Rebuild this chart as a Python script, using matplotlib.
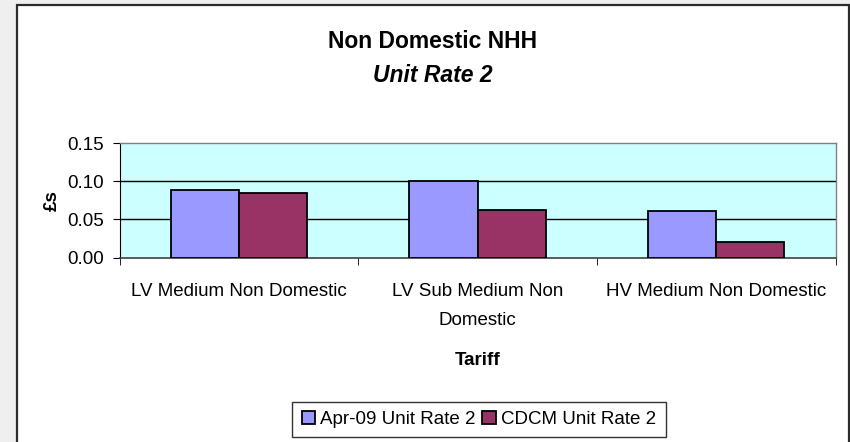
import numpy as np
import matplotlib
matplotlib.use("Agg")
import matplotlib.pyplot as plt
from matplotlib.patches import Rectangle

plt.rcParams['font.family'] = ['Liberation Sans', 'DejaVu Sans']

# data
tariffs = ["LV Medium Non Domestic", "LV Sub Medium Non\nDomestic", "HV Medium Non Domestic"]
apr09 = [0.089, 0.101, 0.061]
cdcm = [0.085, 0.063, 0.021]
series_names = ["Apr-09 Unit Rate 2", "CDCM Unit Rate 2"]
yticks = [0.00, 0.05, 0.10, 0.15]

W, H = 850, 442
fig = plt.figure(figsize=(W / 100, H / 100), dpi=100, facecolor="#EFEFEF")

# white chart panel with dark border
panel = Rectangle((16.5 / W, -0.1), (848.5 - 16.5) / W, 1.1 - 5 / H,
                  transform=fig.transFigure, facecolor="white",
                  edgecolor="#2b2b2b", linewidth=1.6, zorder=-1)
fig.patches.append(panel)

ax = fig.add_axes([119.5 / W, 1 - 257.5 / H, (835.5 - 119.5) / W, (257.5 - 143.3) / H])
ax.set_zorder(1)
ax.set_facecolor("#CCFFFF")

x = np.arange(len(tariffs)) + 0.5
w = 1 / 3.5
ax.bar(x - w / 2, apr09, w, color="#9999FF", edgecolor="black", linewidth=1.3,
       label=series_names[0], zorder=3)
ax.bar(x + w / 2, cdcm, w, color="#993366", edgecolor="black", linewidth=1.3,
       label=series_names[1], zorder=3)

ax.set_xlim(0, len(tariffs))
ax.set_ylim(0, 0.15)
ax.set_yticks(yticks)
ax.set_yticklabels([f"{v:.2f}" for v in yticks], fontsize=13.5)
for v in yticks[1:3]:
    ax.axhline(v, color="black", linewidth=1.0, zorder=1)

ax.set_xticks(x)
ax.set_xticklabels(tariffs, fontsize=13.5, linespacing=1.95)
ax.set_xticks(np.arange(len(tariffs) + 1), minor=True)
ax.tick_params(axis="x", which="major", length=0, pad=18)
ax.tick_params(axis="x", which="minor", length=5, direction="out", color="black")
ax.tick_params(axis="y", length=5, direction="out", pad=6, color="black")

for side in ["top", "right"]:
    ax.spines[side].set_color("#808080")
    ax.spines[side].set_linewidth(1.0)
ax.spines["left"].set_color("black")
ax.spines["bottom"].set_color("#404040")
ax.spines["bottom"].set_linewidth(1.2)

ax.set_xlabel("Tariff", fontsize=13.5, fontweight="bold", labelpad=16.5)
ax.set_ylabel("£s", fontsize=13.5, fontweight="bold", labelpad=5)

fig.text(432.5 / W, 1 - 48 / H, "Non Domestic NHH", ha="center", va="baseline",
         fontsize=16.5, fontweight="bold")
fig.text(432.5 / W, 1 - 82 / H, "Unit Rate 2", ha="center", va="baseline",
         fontsize=16.5, fontweight="bold", fontstyle="italic")

leg = fig.legend(loc="center", bbox_to_anchor=(479 / W, 1 - 419.5 / H), ncol=2,
                 fontsize=13.5, frameon=True, fancybox=False, edgecolor="black",
                 handlelength=0.7, handleheight=0.7, handletextpad=0.3,
                 columnspacing=0.35, borderpad=0.5, borderaxespad=0)
leg.get_frame().set_linewidth(1.0)

fig.savefig("out.png", dpi=100, facecolor=fig.get_facecolor())
